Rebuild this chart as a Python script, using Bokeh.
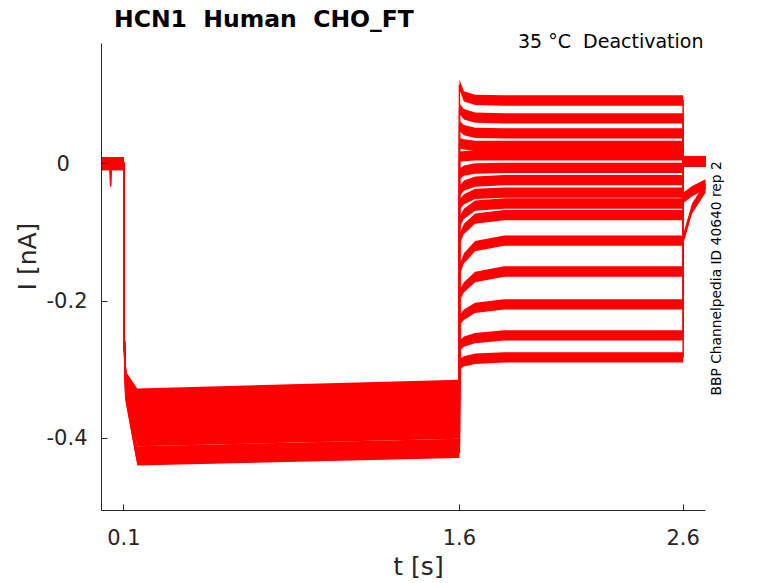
from math import pi
import numpy as np
from bokeh.plotting import figure
from bokeh.models import Range1d, FixedTicker, Label, CustomJSTickFormatter
from bokeh.embed import file_html
from bokeh.resources import INLINE

# ---------------- texts / ticks ----------------
# (a no-break space keeps the double spacing of the original texts in SVG)
title_text = "HCN1 \u00a0Human \u00a0CHO_FT"
cond_text = "35 °C \u00a0Deactivation"
id_text = "BBP Channelpedia ID 40640 rep 2"
x_label = "t [s]"
y_label = "I [nA]"
x_ticks = [0.1, 1.6, 2.6]
y_ticks = [-0.4, -0.2, 0.0]

# axes extents (data units)
t_min, t_max = 0.0, 2.7
i_min, i_max = -0.505, 0.175

# ---------------- protocol key times (s) ----------------
key_times = [0.0, 0.1, 0.1, 0.108, 0.16, 1.6, 1.6, 1.62, 1.67, 1.8, 2.6, 2.6, 2.64, 2.7]

# ---------------- current values (nA), 15 sweeps ----------------
hold_level = [0.002, 0.0, -0.001, 0.001, 0.0, -0.002, 0.001, 0.0, 0.002, -0.001, 0.0, 0.001, -0.002, 0.0, 0.001]
act_jump = [-0.24, -0.24, -0.24, -0.24, -0.24, -0.24, -0.24, -0.24, -0.24, -0.24, -0.24, -0.24, -0.24, -0.24, -0.24]
act_fast = [-0.31, -0.31, -0.31, -0.31, -0.31, -0.31, -0.315, -0.315, -0.315, -0.32, -0.32, -0.325, -0.33, -0.335, -0.34]
act_early = [-0.335, -0.337, -0.343, -0.345, -0.351, -0.356, -0.357, -0.363, -0.368, -0.372,
             -0.381, -0.391, -0.404, -0.419, -0.432]
act_late = [-0.322, -0.326, -0.331, -0.334, -0.339, -0.343, -0.346, -0.351, -0.356, -0.360,
            -0.369, -0.380, -0.393, -0.408, -0.421]
deact_onset = [0.115, 0.080, 0.055, 0.030, 0.010, -0.015, -0.040, -0.060, -0.085, -0.110,
               -0.155, -0.192, -0.228, -0.265, -0.292]
deact_20ms = [0.098, 0.072, 0.049, 0.028, 0.011, -0.010, -0.032, -0.052, -0.073, -0.095,
              -0.138, -0.180, -0.220, -0.259, -0.288]
deact_70ms = [0.093, 0.067, 0.045, 0.026, 0.012, -0.007, -0.026, -0.044, -0.061, -0.080,
              -0.120, -0.165, -0.210, -0.254, -0.284]
deact_steady = [0.092, 0.066, 0.044, 0.026, 0.012, -0.006, -0.024, -0.042, -0.058, -0.075,
                -0.112, -0.157, -0.205, -0.250, -0.282]
post_start = [0.003, 0.003, 0.003, 0.003, 0.003, 0.003, 0.003, 0.003, 0.003, 0.003,
              0.003, 0.003, 0.003, -0.050, -0.110]
post_mid = [0.003, 0.003, 0.003, 0.003, 0.003, 0.003, 0.003, 0.003, 0.003, 0.003,
            0.003, 0.003, 0.003, -0.040, -0.065]
post_end = [0.003, 0.003, 0.003, 0.003, 0.003, 0.003, 0.003, 0.003, 0.003, 0.003,
            0.003, 0.003, 0.003, -0.030, -0.035]

# small artefact in the holding segment of one sweep
dip_times = [0.036, 0.041, 0.044, 0.048]
dip_values = [0.0, -0.033, -0.010, 0.0]

# half width of the recording noise band (nA)
noise_half = 0.0075

TRACE_COLOR = "#ff0000"
AXIS_COLOR = "#262626"
FONT = "DejaVu Sans"

# the frame is made a little larger than the axes so that the texts
# around the axes (title, condition, ID) are not clipped; the axis lines
# are limited to the data extents with `bounds`.
p = figure(width=770, height=583,
           x_range=Range1d(t_min, 2.834), y_range=Range1d(i_min, 0.2347),
           output_backend="svg", toolbar_location=None, title=None,
           min_border_left=101, min_border_right=35, min_border_top=2, min_border_bottom=73)
p.outline_line_color = None
p.xgrid.visible = False
p.ygrid.visible = False
p.background_fill_color = "white"
p.border_fill_color = "white"

n_sweeps = len(act_early)
for i in range(n_sweeps):
    vals = np.array([hold_level[i], hold_level[i], act_jump[i], act_fast[i], act_early[i],
                     act_late[i], deact_onset[i], deact_20ms[i], deact_70ms[i], deact_steady[i],
                     deact_steady[i], post_start[i], post_mid[i], post_end[i]])
    p.varea(x=key_times, y1=vals - noise_half, y2=vals + noise_half,
            fill_color=TRACE_COLOR, fill_alpha=1.0)
    p.line(x=key_times, y=vals, line_color=TRACE_COLOR, line_width=1.5)

dv = np.array(dip_values)
p.varea(x=dip_times, y1=dv - noise_half * 0.5, y2=dv + noise_half * 0.5, fill_color=TRACE_COLOR)
p.line(x=dip_times, y=dip_values, line_color=TRACE_COLOR, line_width=1.5)

for ax in (p.xaxis[0], p.yaxis[0]):
    ax.axis_line_color = AXIS_COLOR
    ax.axis_line_width = 1
    ax.major_tick_line_color = AXIS_COLOR
    ax.major_tick_in = 6
    ax.major_tick_out = 0
    ax.minor_tick_line_color = None
    ax.major_label_text_font = FONT
    ax.major_label_text_font_size = "21px"
    ax.major_label_text_color = AXIS_COLOR
    ax.axis_label_text_font = FONT
    ax.axis_label_text_font_size = "25px"
    ax.axis_label_text_font_style = "normal"
    ax.axis_label_text_color = AXIS_COLOR

p.xaxis.bounds = (t_min, t_max)
p.yaxis.bounds = (i_min, i_max)
p.xaxis.ticker = FixedTicker(ticks=x_ticks)
p.yaxis.ticker = FixedTicker(ticks=y_ticks)
p.xaxis.formatter = CustomJSTickFormatter(code="return tick.toFixed(1);")
p.yaxis.formatter = CustomJSTickFormatter(
    code="return Math.abs(tick) < 1e-9 ? '0\u2007\u2009' : tick.toFixed(1);")
p.xaxis.axis_label = x_label
p.yaxis.axis_label = y_label
p.xaxis.major_label_standoff = 18
p.xaxis.axis_label_standoff = 4
p.yaxis.major_label_standoff = 14
p.yaxis.axis_label_standoff = 2

p.add_layout(Label(x=0.056, y=0.2114, text=title_text, text_font=FONT, text_font_size="23.5px",
                   text_font_style="bold", text_color="black", text_align="left",
                   text_baseline="middle"))
p.add_layout(Label(x=2.691, y=0.178, text=cond_text, text_font=FONT, text_font_size="19px",
                   text_color="black", text_align="right", text_baseline="middle"))
p.add_layout(Label(x=2.749, y=-0.167, text=id_text, text_font=FONT, text_font_size="13.8px",
                   text_color="black", text_align="center", text_baseline="middle",
                   angle=pi / 2))

open("out.html", "w").write(file_html(p, INLINE))
